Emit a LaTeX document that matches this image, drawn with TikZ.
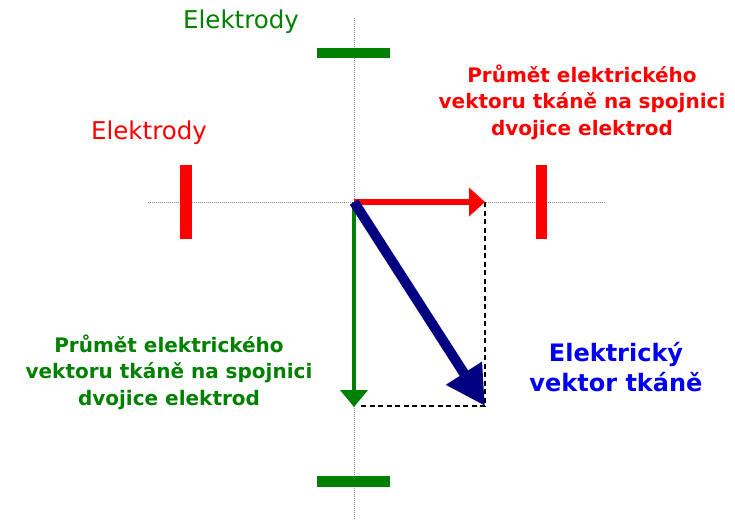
\documentclass[tikz,border=0pt]{standalone}
\usepackage{fontspec}
\setmainfont{DejaVu Sans}
\usetikzlibrary{arrows.meta}
\definecolor{egreen}{RGB}{0,128,0}
\definecolor{ered}{RGB}{255,0,0}
\definecolor{enavy}{RGB}{0,0,128}
\definecolor{eblue}{RGB}{0,0,240}
\begin{document}
\begin{tikzpicture}[x=1pt,y=-1pt,
  guide/.style={draw=gray!90,line width=1pt,dash pattern=on 1pt off 1pt},
  proj/.style={align=center,font={\bfseries\fontsize{20}{26.5}\selectfont}},
  lbl/.style={font={\fontsize{24.5}{28}\selectfont}},
  helper/.style={draw=black,line width=1.2pt,dash pattern=on 5pt off 3.5pt}]
\useasboundingbox (0,0) rectangle (735,519);
% guide lines
\coordinate (O) at (354,202);
\coordinate (Htl) at (148,202);
\coordinate (Htr) at (605,202);
\coordinate (Vt) at (354,18);
\coordinate (Vb) at (354,519);
\draw[guide] (Htl) -- (Htr);
\draw[guide] (Vt) -- (Vb);
% electrodes
\fill[egreen] (317,48) rectangle (390,58);
\fill[egreen] (317,476) rectangle (390,487);
\fill[ered] (180,165) rectangle (192,239);
\fill[ered] (536,165) rectangle (547,239);
% tips
\coordinate (R) at (485,202);
\coordinate (G) at (354,407);
\coordinate (B) at (485,406);
\coordinate (D) at (360,406);
% dashed helpers
\draw[helper] (R) -- (B) -- (D);
% vectors
\draw[ered,line width=5.5pt,-{Triangle[length=16pt,width=28pt]}] (O) -- (R);
\draw[egreen,line width=4.5pt,-{Triangle[length=17pt,width=27pt]}] (O) -- (G);
\draw[enavy,line width=10pt,-{Triangle[length=39pt,width=40pt]}] (O) -- (B);
% labels
\node[lbl,text=egreen] (eg) at (241,22) {Elektrody};
\node[lbl,text=ered] (er) at (149,133) {Elektrody};
\node[proj,text=ered] (tr) at (582,102) {Průmět elektrického\\vektoru tkáně na spojnici\\dvojice elektrod};
\node[proj,text=egreen] (tg) at (169,372) {Průmět elektrického\\vektoru tkáně na spojnici\\dvojice elektrod};
\node[align=center,text=eblue,font={\bfseries\fontsize{24}{30}\selectfont}] (tb) at (616,367) {Elektrický\\vektor tkáně};
\end{tikzpicture}
\end{document}
